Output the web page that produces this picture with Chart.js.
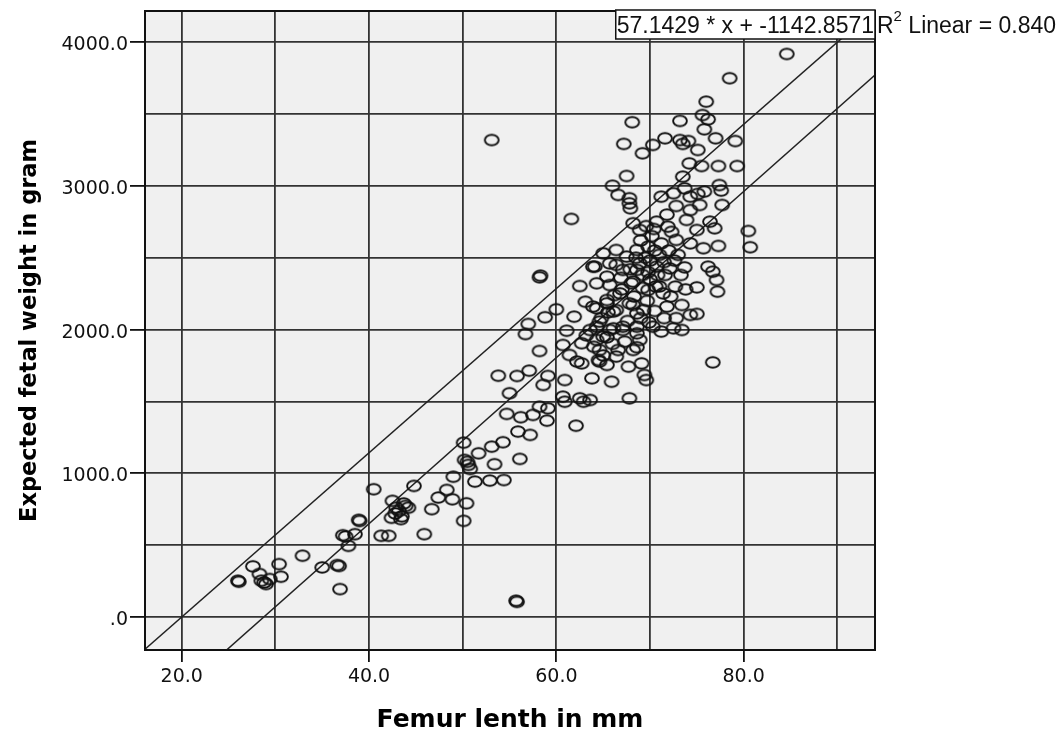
<!DOCTYPE html>
<html>
<head>
<meta charset="utf-8">
<script src="https://cdn.jsdelivr.net/npm/chart.js@4"></script>
<style>
  html, body { margin: 0; padding: 0; background: #fff; }
  #wrap { width: 1064px; height: 735px; }
</style>
</head>
<body>
<div id="wrap"><canvas id="chart-femur"></canvas></div>
<script>
// femur length (mm) vs expected fetal weight (g)
const femurLength = [
  26.0, 27.6, 28.3, 28.5, 29.0, 29.4, 30.4, 30.6, 32.9, 35.0, 36.6, 36.9, 37.2, 37.8, 38.5, 38.9,
  40.5, 41.3, 42.1, 42.5, 43.2, 43.4, 43.9, 44.8, 45.9, 46.7, 47.4, 48.9, 50.1,
  26.1, 28.8, 36.8, 39.0, 42.8, 43.5, 44.2, 37.5, 42.9, 43.7, 42.4,
  54.7, 56.2, 57.5, 58.2, 59.1, 59.0, 60.9, 62.9, 62.1, 55.9, 57.2, 50.1, 53.1, 54.3, 51.7, 50.2,
  50.6, 53.4, 56.1, 49.0, 51.3, 52.9, 54.4, 48.3, 50.4, 55.7, 50.5, 50.8, 55.8,
  58.2, 62.5, 63.9, 60.0, 58.8, 57.0, 56.7, 58.2, 61.9, 63.1, 61.1, 62.7, 60.7, 61.4, 62.2, 62.7,
  64.5, 65.4, 63.8, 65.9, 64.3, 65.4, 67.1, 53.8, 55.8, 57.1, 59.1, 58.6, 60.9, 55.0, 60.7, 62.5, 58.3,
  65.4, 66.4, 67.5, 68.6, 68.0, 66.8, 65.4, 64.3, 66.1, 67.8, 68.6, 64.6, 66.1, 68.6, 63.6, 64.6,
  66.6, 68.2, 66.4,
  84.6, 78.5, 76.0, 75.6, 76.2, 75.8, 73.2, 68.1, 67.2, 69.2, 70.3, 71.6, 73.2, 74.1, 73.5, 75.1,
  77.0, 79.1, 74.2, 75.5, 77.3, 79.3, 67.5, 66.0, 73.5, 77.4, 77.6, 75.8, 75.1, 73.7, 72.5, 66.6,
  67.8, 71.2,
  74.3, 74.3, 75.3, 67.9, 68.2, 68.9, 70.7, 71.9, 73.9, 75.0, 76.4, 76.9, 66.4, 65.0, 68.6, 69.8,
  71.2, 72.8, 74.3, 75.7, 77.3, 64.1, 65.7, 67.1, 68.9, 70.7, 72.1, 73.7, 76.2, 76.7, 64.3, 65.7,
  68.2, 69.8, 71.4, 72.7, 75.0, 77.1, 77.2, 63.9, 65.4, 66.4, 68.2, 69.3, 71.8, 73.4, 74.3, 75.0,
  64.3, 65.7, 67.1, 68.6, 70.3, 71.2, 73.4, 72.5, 68.9,
  80.5, 80.7, 77.7, 67.8,
  69.5, 70.0, 70.5, 69.0, 70.2, 71.0, 69.8, 70.8, 71.5, 68.5, 70.0, 69.2, 71.0, 72.0, 70.4, 69.6,
  72.3, 73.0, 72.8, 71.8,
  64.8, 65.5, 66.2, 67.0, 67.6, 68.3, 69.0, 69.7, 70.5, 71.5, 72.2, 72.8, 73.8, 66.9, 67.9, 69.2,
  70.6, 71.6, 72.6, 73.3, 64.0, 65.0, 66.0, 63.2, 69.9,
  76.7, 67.8, 69.6, 69.4, 69.1, 67.7, 64.6, 68.6, 67.3, 65.0, 63.6,
  53.1, 61.6
];
const fetalWeight = [
  252, 352, 299, 252, 229, 264, 368, 280, 426, 345, 361, 194, 569, 495, 576, 676,
  889, 565, 565, 808, 738, 681, 773, 912, 576, 750, 831, 819, 669,
  245, 240, 355, 668, 720, 700, 760, 560, 760, 790, 690,
  1413, 1390, 1406, 1463, 1452, 1366, 1498, 1498, 1331, 1290, 1267, 1213, 1185, 1216, 1139, 1093,
  1058, 1063, 1100, 976, 942, 949, 953, 884, 791, 113, 1080, 1030, 105,
  2364, 2303, 2438, 2141, 2086, 2039, 1969, 1851, 2090, 2194, 1992, 1905, 1893, 1823, 1777, 1765,
  1788, 1754, 1661, 1637, 1928, 1946, 1997, 1679, 1677, 1714, 1677, 1615, 1649, 1557, 1533, 1522, 2375,
  2368, 2450, 2508, 2415, 2322, 2252, 2206, 2148, 2125, 2183, 2113, 2055, 2009, 2020, 1997, 1858,
  1858, 1858, 1812,
  3918, 3749, 3586, 3493, 3463, 3394, 3452, 3443, 3292, 3227, 3285, 3331, 3319, 3312, 3292, 3250,
  3331, 3312, 3157, 3138, 3138, 3138, 3069, 3001, 3064, 3006, 2967, 2960, 2944, 2983, 2949, 2937,
  2914, 2925,
  2925, 2832, 2867, 2844, 2740, 2693, 2751, 2716, 2763, 2693, 2751, 2705, 2554, 2531, 2554, 2577,
  2600, 2624, 2600, 2566, 2582, 2438, 2461, 2415, 2461, 2438, 2426, 2433, 2438, 2403, 2322, 2310,
  2334, 2276, 2252, 2299, 2294, 2345, 2264, 2160, 2183, 2136, 2171, 2136, 2160, 2171, 2102, 2109,
  2020, 1997, 2020, 1974, 2020, 1986, 1997, 2009, 1928,
  2686, 2573, 2867, 2879,
  2500, 2480, 2550, 2620, 2650, 2520, 2400, 2380, 2470, 2500, 2350, 2290, 2300, 2550, 2700, 2720,
  2680, 2520, 2860, 2800,
  2080, 2120, 2240, 2280, 2060, 2230, 2080, 2200, 2130, 2080, 2230, 2080, 2280, 2360, 2420, 2380,
  2300, 2380, 2480, 2380, 1880, 1820, 1900, 1960, 2050,
  1772, 1522, 1649, 1684, 1765, 1742, 1777, 1877, 1916, 1951, 1510,
  3319, 2770
];

// reference line from the label and the linear fit line (estimated)
const refSlope = 57.1429;
const refIntercept = -1142.8571;
const fitSlope = 57.8;
const fitIntercept = -1663;
const rSquared = "0.840";

const xMin = 16.08, xMax = 94.02;
const yMin = -230, yMax = 4217;

const points = femurLength.map((x, i) => ({ x: x, y: fetalWeight[i] }));
const lineAt = (m, b) => [{ x: xMin, y: m * xMin + b }, { x: xMax, y: m * xMax + b }];

// open ellipse marker like the SPSS one
const marker = document.createElement("canvas");
marker.width = 18;
marker.height = 15;
const mctx = marker.getContext("2d");
mctx.lineWidth = 1.9;
mctx.strokeStyle = "#111";
mctx.beginPath();
mctx.ellipse(9, 7.5, 6.9, 5.3, 0, 0, Math.PI * 2);
mctx.stroke();

const isMult = (v, step) => Math.abs(v / step - Math.round(v / step)) < 1e-6;

const plotDecor = {
  id: "plotDecor",
  beforeDraw(chart) {
    const { ctx, chartArea: a } = chart;
    ctx.save();
    ctx.fillStyle = "#f0f0f0";
    ctx.fillRect(a.left, a.top, a.right - a.left, a.bottom - a.top);
    ctx.restore();
  },
  afterDraw(chart) {
    const { ctx, chartArea: a } = chart;
    ctx.save();
    ctx.strokeStyle = "#111";
    ctx.lineWidth = 2;
    ctx.strokeRect(a.left, a.top, a.right - a.left, a.bottom - a.top);

    const eq = refSlope.toFixed(4) + " * x + " + refIntercept.toFixed(4);
    ctx.font = "23px 'Liberation Sans', Arial, sans-serif";
    const w = ctx.measureText(eq).width;
    const bx = a.right - w - 2;
    ctx.fillStyle = "#fff";
    ctx.fillRect(bx, a.top - 1, a.right - bx, 29);
    ctx.lineWidth = 1.5;
    ctx.strokeRect(bx, a.top - 1, a.right - bx, 29);
    ctx.fillStyle = "#111";
    ctx.textBaseline = "alphabetic";
    ctx.fillText(eq, bx + 1, a.top + 22);

    let tx = a.right + 2;
    ctx.fillText("R", tx, a.top + 22);
    tx += ctx.measureText("R").width;
    ctx.font = "15px 'Liberation Sans', Arial, sans-serif";
    ctx.fillText("2", tx, a.top + 10);
    tx += ctx.measureText("2").width;
    ctx.font = "23px 'Liberation Sans', Arial, sans-serif";
    ctx.fillText(" Linear = " + rSquared, tx, a.top + 22);
    ctx.restore();
  },
};

const tickFont = { family: "'DejaVu Sans', sans-serif", size: 19 };

new Chart(document.querySelector("#chart-femur").getContext("2d"), {
  type: "scatter",
  data: {
    datasets: [
      {
        data: points,
        pointStyle: marker,
        pointRadius: 7,
      },
      {
        type: "line",
        data: lineAt(refSlope, refIntercept),
        borderColor: "#222",
        borderWidth: 1.5,
        pointRadius: 0,
        fill: false,
      },
      {
        type: "line",
        data: lineAt(fitSlope, fitIntercept),
        borderColor: "#222",
        borderWidth: 1.5,
        pointRadius: 0,
        fill: false,
      },
    ],
  },
  options: {
    responsive: true,
    maintainAspectRatio: false,
    animation: false,
    events: [],
    layout: { padding: { top: 11, right: 189, left: 0, bottom: 0 } },
    plugins: { legend: { display: false }, tooltip: { enabled: false } },
    scales: {
      x: {
        type: "linear",
        min: xMin,
        max: xMax,
        afterFit: (scale) => {
          scale.height = 85;
          scale.paddingLeft = 0;
          scale.paddingRight = 0;
        },
        border: { display: false },
        grid: {
          color: (ctx) => (ctx.tick && isMult(ctx.tick.value, 10) ? "#333" : "rgba(0,0,0,0)"),
          lineWidth: 1.8,
          tickLength: 12,
          tickColor: (ctx) => (ctx.tick && isMult(ctx.tick.value, 20) ? "#111" : "rgba(0,0,0,0)"),
        },
        ticks: {
          stepSize: 10,
          includeBounds: false,
          padding: 4,
          color: "#111",
          font: tickFont,
          maxRotation: 0,
          autoSkip: false,
          callback: (v) => (isMult(v, 20) ? v.toFixed(1) : ""),
        },
        title: {
          display: true,
          text: "Femur lenth in mm",
          color: "#000",
          font: { family: "'DejaVu Sans', sans-serif", size: 25, weight: "bold" },
          padding: { top: 0, bottom: 0 },
        },
      },
      y: {
        type: "linear",
        min: yMin,
        max: yMax,
        afterFit: (scale) => {
          scale.width = 145;
          scale.paddingTop = 0;
          scale.paddingBottom = 0;
        },
        border: { display: false },
        grid: {
          color: (ctx) => (ctx.tick && isMult(ctx.tick.value, 500) ? "#333" : "rgba(0,0,0,0)"),
          lineWidth: 1.8,
          tickLength: 15,
          tickColor: (ctx) => (ctx.tick && isMult(ctx.tick.value, 1000) ? "#111" : "rgba(0,0,0,0)"),
        },
        ticks: {
          // no stepSize here: the 500 spacing comes from the 11-tick limit
          maxTicksLimit: 11,
          includeBounds: false,
          padding: 2,
          labelOffset: 3,
          color: "#111",
          font: tickFont,
          autoSkip: false,
          callback: (v) => (isMult(v, 1000) ? (v === 0 ? ".0" : v.toFixed(1)) : ""),
        },
        title: {
          display: true,
          text: "Expected fetal weight in gram",
          color: "#000",
          font: { family: "'DejaVu Sans', sans-serif", size: 22.5, weight: "bold" },
          padding: { top: 17, bottom: 0 },
        },
      },
    },
  },
  plugins: [plotDecor],
});
</script>
</body>
</html>
